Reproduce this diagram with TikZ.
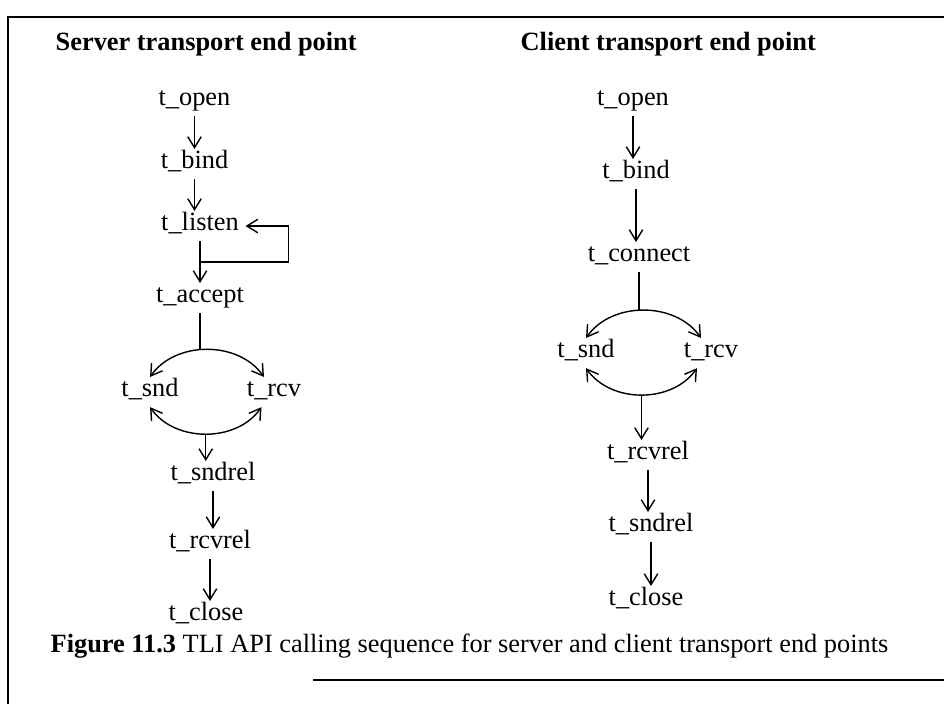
\documentclass[tikz,border=0pt]{standalone}
\usepackage{fontspec}
\setmainfont{Liberation Serif}
\usetikzlibrary{arrows.meta}

\tikzset{
  func/.style={anchor=base, inner sep=0.12cm, text height=0.7em, text depth=0.25em},
  heading/.style={anchor=base west, inner sep=0pt, font=\fontsize{15}{18}\selectfont\bfseries},
  rule/.style={line width=1.6pt}
}

\begin{document}
\begin{tikzpicture}[font=\fontsize{15}{18}\selectfont, line width=0.8pt, >={Straight Barb[length=2.2mm,width=2.7mm]}]
    \useasboundingbox (0,0) rectangle (18.88,-14.08);
    % page frame
    \draw[rule] (0.16,-14.08) -- (0.16,-0.34) -- (18.88,-0.34);
    \draw[rule, line width=1.3pt] (6.26,-13.6) -- (18.88,-13.6);
    \node[name=shead, heading] at (1.10,-1.00) {Server transport end point};
    \node[name=chead, heading] at (10.40,-1.00) {Client transport end point};
    % server side
    \node[name=sopen, func] at (3.89,-2.10) {t\_open};
    \node[name=sbind, func] at (3.89,-3.36) {t\_bind};
    \node[name=slisten, func] at (4.00,-4.60) {t\_listen};
    \node[name=saccept, func] at (4.00,-6.04) {t\_accept};
    \node[name=ssnd, func] at (3.00,-7.92) {t\_snd};
    \node[name=srcv, func] at (5.48,-7.92) {t\_rcv};
    \node[name=ssndrel, func] at (4.26,-9.60) {t\_sndrel};
    \node[name=srcvrel, func] at (4.20,-10.96) {t\_rcvrel};
    \node[name=sclose, func] at (4.12,-12.40) {t\_close};
    \draw[->] (sopen.south) -- (sopen.south |- sbind.north);
    \draw[->] (sbind.south) -- (sbind.south |- slisten.north);
    \draw[->] (slisten.south) -- coordinate[midway] (sjoin) (saccept.north);
    \draw[->] (sjoin) -| ([xshift=0.86cm]slisten.east) -- (slisten.east);
    \draw[<->] (ssnd.north) to[bend left=55] coordinate[pos=0.5] (stop) ([xshift=-0.2cm]srcv.north);
    \draw (saccept.south) -- (saccept.south |- stop);
    \draw[<->] (ssnd.south) to[bend right=55] coordinate[pos=0.5] (sbot) ([xshift=-0.25cm]srcv.south);
    \draw[->] (sbot) -- (sbot |- ssndrel.north);
    \draw[->] (ssndrel.south) -- (ssndrel.south |- srcvrel.north);
    \draw[->] (srcvrel.south) -- (srcvrel.south |- sclose.north);
    % client side
    \node[name=copen, func] at (12.66,-2.10) {t\_open};
    \node[name=cbind, func] at (12.72,-3.56) {t\_bind};
    \node[name=cconnect, func] at (12.78,-5.22) {t\_connect};
    \node[name=csnd, func] at (11.72,-7.14) {t\_snd};
    \node[name=crcv, func] at (14.22,-7.14) {t\_rcv};
    \node[name=crcvrel, func] at (12.96,-9.18) {t\_rcvrel};
    \node[name=csndrel, func] at (13.02,-10.62) {t\_sndrel};
    \node[name=cclose, func] at (12.92,-12.10) {t\_close};
    \draw[->] (copen.south) -- (copen.south |- cbind.north);
    \draw[->] (cbind.south) -- (cbind.south |- cconnect.north);
    \draw[<->] (csnd.north) to[bend left=55] coordinate[pos=0.5] (ctop) ([xshift=-0.2cm]crcv.north);
    \draw (cconnect.south) -- (cconnect.south |- ctop);
    \draw[<->] (csnd.south) to[bend right=55] coordinate[pos=0.5] (cbot) ([xshift=-0.28cm]crcv.south);
    \draw[->] (cbot) -- (cbot |- crcvrel.north);
    \draw[->] (crcvrel.south) -- (crcvrel.south |- csndrel.north);
    \draw[->] (csndrel.south) -- (csndrel.south |- cclose.north);
    % caption
    \node[name=caption, anchor=base west, inner sep=0pt] at (1.00,-13.04) {\textbf{Figure 11.3} TLI API calling sequence for server and client transport end points};
\end{tikzpicture}
\end{document}
